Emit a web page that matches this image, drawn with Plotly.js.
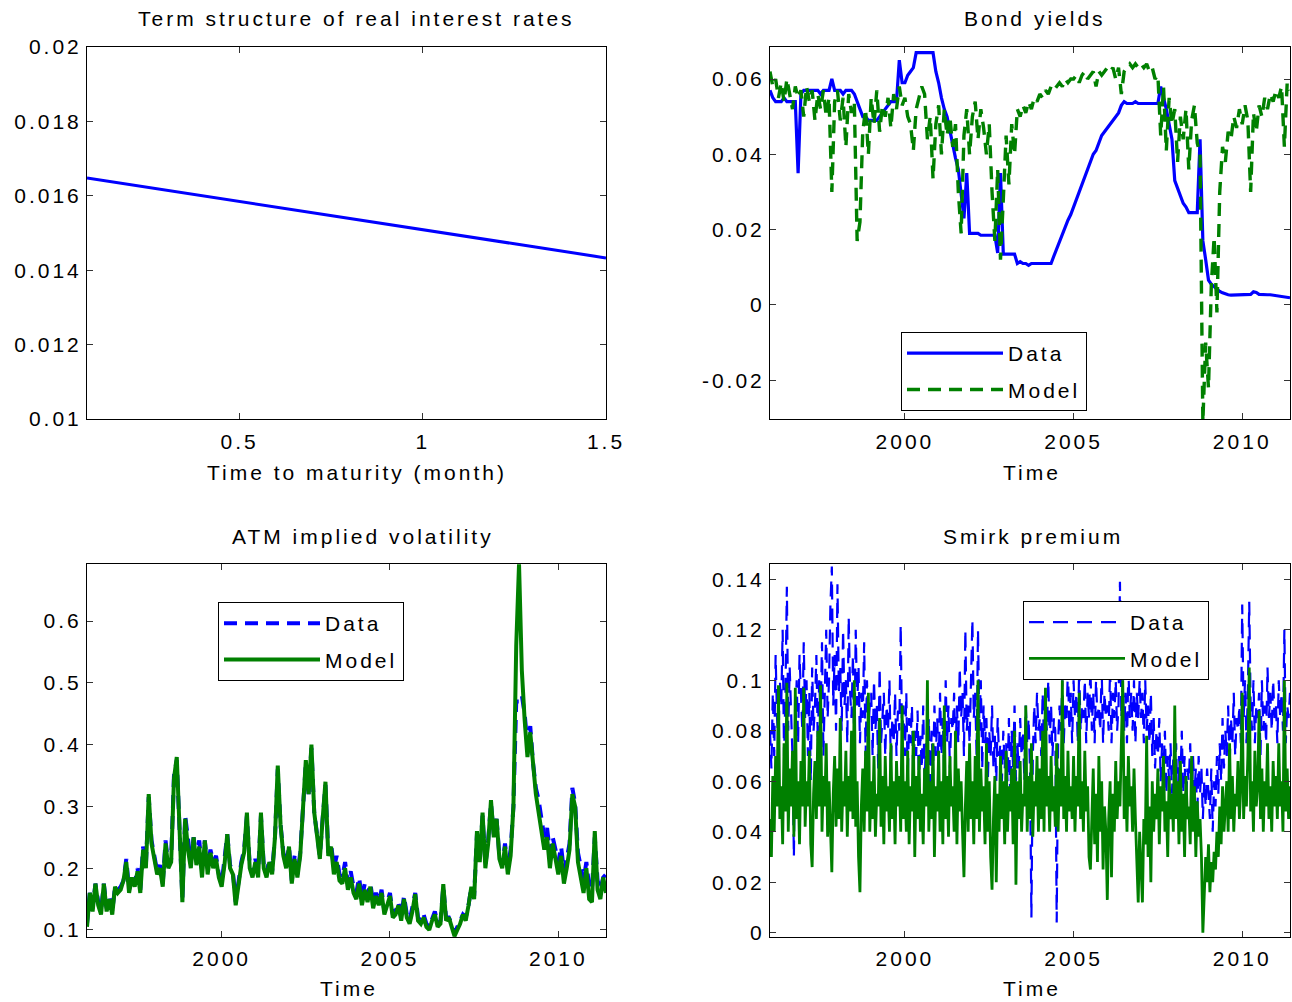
<!DOCTYPE html>
<html>
<head>
<meta charset="utf-8">
<script src="https://cdn.plot.ly/plotly-3.0.1.min.js"></script>
<style>
html,body{margin:0;padding:0;background:#fff;}
#chart{width:1292px;height:1002px;}
svg text{letter-spacing:3px;}
</style>
</head>
<body>
<div id="chart"></div>
<script>
// ---------- Data ----------
// Panel 1: term structure of real interest rates
const maturity = [1/12, 0.25, 0.5, 0.75, 1.0, 1.25, 1.5];
const termRates = [0.01648, 0.01623, 0.01585, 0.01547, 0.01509, 0.01471, 0.01433];

// Time grids (monthly for panels 2-3, half-monthly for panel 4), starting Jan 1996
const startYear = 1996;
const time = [];
for (let i = 0; i < 186; i++) time.push(startYear + i / 12);
const timeHalf = [];
for (let i = 0; i < 371; i++) timeHalf.push(startYear + i / 24);

// Panel 2: bond yields
const bondData = [
  0.057,0.055,0.054,0.054,0.054,0.055,0.054,0.054,0.054,0.054,0.035,0.056,
  0.057,0.057,0.057,0.057,0.057,0.057,0.056,0.057,0.057,0.057,0.060,0.057,
  0.057,0.057,0.056,0.057,0.057,0.057,0.056,0.054,0.052,0.050,0.050,0.049,
  0.049,0.049,0.049,0.050,0.051,0.052,0.053,0.054,0.054,0.054,0.065,0.059,
  0.059,0.061,0.062,0.063,0.067,0.067,0.067,0.067,0.067,0.067,0.067,0.062,
  0.059,0.055,0.052,0.050,0.046,0.042,0.039,0.036,0.030,0.023,0.035,0.019,
  0.019,0.019,0.019,0.0185,0.0185,0.0185,0.0185,0.0185,0.0185,0.0138,0.035,0.0135,
  0.0135,0.0135,0.0135,0.0135,0.011,0.0115,0.011,0.011,0.0105,0.011,0.011,0.011,
  0.011,0.011,0.011,0.011,0.011,0.013,0.015,0.017,0.019,0.021,0.0225,0.024,
  0.026,0.028,0.030,0.032,0.034,0.036,0.038,0.040,0.041,0.043,0.045,0.046,
  0.047,0.048,0.049,0.050,0.051,0.053,0.054,0.0535,0.0535,0.0535,0.054,0.0535,
  0.0535,0.0535,0.0535,0.0535,0.0535,0.0535,0.0535,0.058,0.055,0.052,0.048,0.044,
  0.033,0.031,0.029,0.027,0.026,0.0245,0.0245,0.0245,0.0245,0.044,0.017,0.012,
  0.0066,0.0055,0.0048,0.0042,0.0036,0.0032,0.0029,0.0027,0.0026,0.0026,0.0026,0.0026,
  0.0026,0.0026,0.0027,0.0028,0.0035,0.0033,0.0028,0.0027,0.0027,0.0027,0.0027,0.0026,
  0.0026,0.0025,0.0022,0.0021,0.0020,0.0019
];
const bondModel = [
  0.062,0.058,0.060,0.055,0.059,0.054,0.060,0.056,0.052,0.058,0.055,0.057,
  0.050,0.058,0.054,0.057,0.049,0.056,0.052,0.057,0.050,0.055,0.030,0.054,
  0.057,0.049,0.055,0.042,0.056,0.051,0.054,0.017,0.022,0.046,0.052,0.040,
  0.055,0.048,0.057,0.046,0.053,0.050,0.055,0.047,0.056,0.052,0.058,0.053,
  0.055,0.050,0.048,0.041,0.052,0.055,0.058,0.056,0.044,0.050,0.0335,0.048,
  0.053,0.040,0.052,0.045,0.050,0.042,0.048,0.030,0.019,0.045,0.052,0.040,
  0.050,0.054,0.044,0.052,0.047,0.040,0.048,0.030,0.017,0.036,0.012,0.028,
  0.045,0.032,0.048,0.040,0.052,0.050,0.053,0.051,0.054,0.052,0.055,0.054,
  0.056,0.055,0.057,0.056,0.058,0.057,0.058,0.059,0.058,0.060,0.059,0.060,
  0.060,0.061,0.059,0.061,0.062,0.060,0.061,0.062,0.058,0.062,0.061,0.062,
  0.063,0.062,0.063,0.060,0.063,0.056,0.062,0.063,0.064,0.063,0.064,0.063,
  0.064,0.063,0.064,0.062,0.063,0.060,0.061,0.045,0.058,0.041,0.055,0.048,
  0.052,0.038,0.050,0.044,0.052,0.036,0.049,0.053,0.043,0.040,-0.031,-0.010,
  -0.022,0.005,0.018,-0.002,0.030,0.042,0.038,0.046,0.044,0.050,0.047,0.052,
  0.048,0.053,0.049,0.030,0.051,0.046,0.053,0.050,0.055,0.052,0.056,0.054,
  0.057,0.055,0.058,0.042,0.059,0.057
];

// Panel 3: ATM implied volatility
const atmData = [
  0.110,0.160,0.135,0.175,0.145,0.130,0.175,0.135,0.155,0.130,0.170,0.165,
  0.170,0.180,0.215,0.165,0.190,0.175,0.200,0.165,0.235,0.205,0.315,0.245,
  0.220,0.195,0.205,0.175,0.245,0.205,0.215,0.350,0.375,0.245,0.150,0.285,
  0.240,0.210,0.250,0.215,0.245,0.195,0.245,0.200,0.230,0.210,0.220,0.190,
  0.175,0.210,0.255,0.205,0.195,0.145,0.180,0.210,0.230,0.285,0.205,0.190,
  0.215,0.195,0.285,0.205,0.190,0.215,0.195,0.250,0.360,0.270,0.225,0.205,
  0.235,0.180,0.220,0.190,0.225,0.300,0.370,0.320,0.395,0.290,0.255,0.220,
  0.280,0.335,0.225,0.240,0.200,0.220,0.190,0.185,0.210,0.175,0.195,0.170,
  0.160,0.185,0.150,0.175,0.155,0.175,0.145,0.160,0.145,0.165,0.130,0.145,
  0.160,0.125,0.130,0.145,0.120,0.155,0.125,0.115,0.135,0.160,0.120,0.115,
  0.125,0.110,0.105,0.120,0.130,0.110,0.115,0.170,0.120,0.120,0.110,0.095,
  0.105,0.115,0.125,0.120,0.140,0.170,0.155,0.255,0.215,0.285,0.205,0.245,
  0.305,0.255,0.280,0.220,0.205,0.240,0.200,0.230,0.300,0.470,0.470,0.480,
  0.450,0.400,0.430,0.370,0.330,0.310,0.280,0.250,0.265,0.225,0.250,0.230,
  0.210,0.235,0.195,0.215,0.240,0.330,0.305,0.225,0.200,0.180,0.210,0.170,
  0.165,0.250,0.180,0.165,0.185,0.190
];
const atmModel = [
  0.105,0.160,0.130,0.175,0.140,0.125,0.175,0.130,0.150,0.125,0.170,0.160,
  0.165,0.180,0.210,0.160,0.185,0.170,0.195,0.160,0.230,0.200,0.320,0.240,
  0.215,0.190,0.200,0.170,0.240,0.200,0.210,0.345,0.380,0.240,0.145,0.280,
  0.230,0.200,0.250,0.205,0.235,0.185,0.245,0.190,0.225,0.200,0.215,0.185,
  0.170,0.205,0.255,0.200,0.190,0.140,0.175,0.205,0.225,0.290,0.200,0.185,
  0.210,0.185,0.290,0.200,0.185,0.210,0.190,0.250,0.366,0.270,0.220,0.200,
  0.235,0.175,0.215,0.185,0.220,0.300,0.375,0.320,0.400,0.290,0.250,0.215,
  0.280,0.340,0.220,0.235,0.190,0.210,0.180,0.175,0.200,0.165,0.185,0.160,
  0.150,0.175,0.140,0.165,0.145,0.170,0.135,0.155,0.140,0.160,0.125,0.140,
  0.155,0.120,0.125,0.140,0.115,0.150,0.120,0.110,0.130,0.158,0.115,0.110,
  0.120,0.105,0.100,0.115,0.125,0.105,0.110,0.174,0.115,0.120,0.105,0.090,
  0.100,0.110,0.125,0.115,0.140,0.170,0.150,0.260,0.210,0.290,0.200,0.240,
  0.310,0.250,0.280,0.215,0.200,0.235,0.190,0.220,0.300,0.560,0.692,0.520,
  0.440,0.380,0.420,0.360,0.320,0.290,0.260,0.230,0.250,0.200,0.240,0.210,
  0.190,0.220,0.175,0.200,0.230,0.320,0.300,0.210,0.180,0.160,0.200,0.150,
  0.145,0.260,0.165,0.150,0.185,0.160
];

// Panel 4: smirk premium (half-monthly)
const smirkData = [
  0.080,0.065,0.095,0.070,0.110,0.085,0.075,0.100,0.090,0.120,0.070,0.095,0.137,0.080,0.105,0.090,0.070,0.030,0.085,0.100,0.075,0.110,0.090,0.080,
  0.115,0.085,0.100,0.070,0.095,0.060,0.105,0.080,0.090,0.110,0.075,0.100,0.085,0.115,0.070,0.095,0.120,0.085,0.100,0.130,0.145,0.090,0.110,0.080,
  0.138,0.095,0.105,0.080,0.120,0.090,0.100,0.075,0.125,0.095,0.085,0.110,0.070,0.120,0.090,0.105,0.075,0.095,0.085,0.115,0.070,0.100,0.080,0.090,
  0.095,0.070,0.100,0.080,0.090,0.065,0.105,0.075,0.085,0.095,0.070,0.090,0.080,0.100,0.065,0.085,0.075,0.095,0.070,0.088,0.080,0.122,0.075,0.090,
  0.070,0.095,0.060,0.085,0.075,0.090,0.060,0.080,0.070,0.088,0.058,0.078,0.065,0.090,0.060,0.075,0.068,0.085,0.055,0.080,0.062,0.090,0.070,0.085,
  0.065,0.095,0.070,0.085,0.060,0.100,0.075,0.090,0.065,0.085,0.080,0.095,0.070,0.090,0.075,0.105,0.085,0.095,0.070,0.120,0.080,0.090,0.075,0.100,
  0.124,0.085,0.095,0.070,0.120,0.080,0.100,0.065,0.090,0.075,0.085,0.060,0.080,0.070,0.090,0.065,0.078,0.060,0.085,0.070,0.075,0.060,0.080,0.065,
  0.075,0.060,0.085,0.050,0.080,0.065,0.090,0.060,0.075,0.065,0.085,0.070,0.080,0.060,0.090,0.075,0.085,0.065,0.006,0.070,0.090,0.075,0.095,0.080,
  0.085,0.070,0.095,0.075,0.090,0.080,0.100,0.075,0.090,0.070,0.085,0.080,0.004,0.075,0.090,0.080,0.100,0.075,0.090,0.085,0.105,0.080,0.095,0.075,
  0.100,0.085,0.095,0.075,0.105,0.080,0.090,0.085,0.100,0.075,0.095,0.085,0.105,0.080,0.095,0.075,0.100,0.085,0.090,0.080,0.105,0.075,0.095,0.085,
  0.090,0.080,0.105,0.075,0.095,0.085,0.100,0.080,0.090,0.139,0.085,0.100,0.080,0.095,0.075,0.105,0.085,0.095,0.080,0.100,0.075,0.095,0.085,0.100,
  0.085,0.095,0.075,0.100,0.080,0.090,0.075,0.095,0.070,0.085,0.065,0.080,0.070,0.085,0.060,0.075,0.065,0.080,0.055,0.070,0.060,0.075,0.055,0.070,
  0.065,0.075,0.050,0.070,0.060,0.080,0.055,0.070,0.050,0.065,0.060,0.075,0.050,0.070,0.055,0.065,0.045,0.070,0.055,0.065,0.045,0.060,0.050,0.065,
  0.055,0.045,0.065,0.040,0.060,0.050,0.070,0.055,0.075,0.060,0.085,0.065,0.080,0.070,0.090,0.065,0.085,0.075,0.095,0.070,0.085,0.080,0.090,0.075,
  0.130,0.085,0.100,0.075,0.095,0.131,0.090,0.080,0.100,0.075,0.090,0.085,0.095,0.070,0.100,0.080,0.090,0.075,0.105,0.085,0.095,0.080,0.100,0.085,
  0.090,0.075,0.100,0.085,0.095,0.080,0.120,0.075,0.090,0.085,0.095
];
const smirkModel = [
  0.045,0.030,0.062,0.040,0.070,0.050,0.098,0.045,0.058,0.035,0.075,0.048,0.099,0.040,0.065,0.050,0.072,0.038,0.097,0.045,0.060,0.035,0.068,0.050,
  0.097,0.042,0.060,0.050,0.072,0.035,0.026,0.055,0.068,0.045,0.080,0.050,0.098,0.040,0.062,0.050,0.075,0.038,0.060,0.045,0.024,0.055,0.070,0.042,
  0.065,0.045,0.085,0.040,0.060,0.050,0.072,0.038,0.062,0.048,0.080,0.045,0.100,0.042,0.060,0.030,0.016,0.050,0.065,0.040,0.072,0.048,0.095,0.040,
  0.060,0.045,0.070,0.038,0.055,0.050,0.085,0.042,0.062,0.035,0.070,0.048,0.058,0.040,0.075,0.045,0.060,0.035,0.068,0.050,0.062,0.040,0.090,0.045,
  0.060,0.040,0.072,0.035,0.058,0.048,0.080,0.030,0.062,0.045,0.070,0.040,0.055,0.035,0.065,0.050,0.100,0.040,0.060,0.045,0.075,0.030,0.058,0.048,
  0.072,0.040,0.060,0.035,0.090,0.045,0.062,0.038,0.070,0.050,0.058,0.040,0.080,0.035,0.065,0.048,0.060,0.040,0.022,0.050,0.068,0.040,0.075,0.045,
  0.060,0.035,0.070,0.045,0.100,0.040,0.065,0.048,0.058,0.035,0.075,0.040,0.060,0.030,0.017,0.045,0.062,0.020,0.055,0.040,0.070,0.045,0.060,0.035,
  0.072,0.040,0.058,0.048,0.065,0.035,0.080,0.019,0.060,0.045,0.068,0.040,0.055,0.050,0.090,0.040,0.062,0.045,0.075,0.038,0.060,0.050,0.070,0.040,
  0.065,0.045,0.080,0.040,0.097,0.050,0.062,0.040,0.070,0.048,0.058,0.042,0.075,0.040,0.065,0.050,0.100,0.045,0.062,0.040,0.072,0.048,0.058,0.045,
  0.070,0.040,0.062,0.050,0.095,0.045,0.060,0.040,0.072,0.048,0.058,0.030,0.025,0.045,0.065,0.035,0.055,0.028,0.070,0.040,0.060,0.025,0.050,0.040,
  0.013,0.045,0.060,0.022,0.055,0.040,0.068,0.045,0.060,0.050,0.075,0.100,0.045,0.062,0.040,0.070,0.050,0.058,0.040,0.065,0.045,0.030,0.012,0.040,
  0.025,0.012,0.045,0.035,0.078,0.030,0.050,0.020,0.060,0.040,0.055,0.045,0.065,0.035,0.058,0.048,0.070,0.040,0.052,0.030,0.062,0.045,0.055,0.040,
  0.090,0.045,0.060,0.035,0.068,0.040,0.055,0.030,0.062,0.045,0.050,0.035,0.070,0.040,0.058,0.030,0.052,0.038,0.045,0.030,0.000,0.012,0.030,0.020,
  0.035,0.016,0.028,0.020,0.032,0.025,0.040,0.030,0.050,0.035,0.058,0.040,0.048,0.060,0.040,0.075,0.045,0.062,0.040,0.055,0.050,0.068,0.045,0.058,
  0.095,0.045,0.062,0.050,0.070,0.105,0.048,0.060,0.040,0.072,0.050,0.058,0.088,0.045,0.065,0.040,0.060,0.050,0.075,0.045,0.058,0.040,0.068,0.050,
  0.062,0.045,0.075,0.050,0.060,0.040,0.100,0.048,0.065,0.045,0.058
];

// Tick labels
const termYTicks = [0.01, 0.012, 0.014, 0.016, 0.018, 0.02];
const termYLabels = ['0.01', '0.012', '0.014', '0.016', '0.018', '0.02'];
const termXTicks = [0.5, 1, 1.5];
const termXLabels = ['0.5', '1', '1.5'];
const yearTicks = [2000, 2005, 2010];
const yearLabels = ['2000', '2005', '2010'];
const bondYTicks = [-0.02, 0, 0.02, 0.04, 0.06];
const bondYLabels = ['-0.02', '0', '0.02', '0.04', '0.06'];
const atmYTicks = [0.1, 0.2, 0.3, 0.4, 0.5, 0.6];
const atmYLabels = ['0.1', '0.2', '0.3', '0.4', '0.5', '0.6'];
const smirkYTicks = [0, 0.02, 0.04, 0.06, 0.08, 0.1, 0.12, 0.14];
const smirkYLabels = ['0', '0.02', '0.04', '0.06', '0.08', '0.1', '0.12', '0.14'];

const titles = ['Term structure of real interest rates', 'Bond yields', 'ATM implied volatility', 'Smirk premium'];
const xTitles = ['Time to maturity (month)', 'Time', 'Time', 'Time'];

// ---------- Styling ----------
const F = 'Liberation Sans, Arial, Helvetica, sans-serif';
const FS = 21;
const BLUE = '#0000ff';
const GREEN = '#008000';
const W = 1292, H = 1002;

const colL = [87 / W, 606 / W];
const colR = [770 / W, 1290 / W];
const rowT = [1 - 419 / H, 1 - 47 / H];
const rowB = [1 - 937 / H, 1 - 564 / H];
const timeRange = [1996, 1996 + 185 / 12];

function ax(extra) {
  return Object.assign({
    showline: true, linecolor: '#000', linewidth: 1, mirror: 'ticks',
    ticks: 'inside', ticklen: 6, tickcolor: '#333', tickwidth: 1,
    showgrid: false, zeroline: false, fixedrange: true,
    tickfont: { family: F, size: FS, color: '#000' },
    ticklabelstandoff: 0
  }, extra);
}

const traces = [
  { x: maturity, y: termRates, xaxis: 'x', yaxis: 'y', mode: 'lines',
    line: { color: BLUE, width: 3 }, showlegend: false, hoverinfo: 'skip' },

  { x: time, y: bondData, xaxis: 'x2', yaxis: 'y2', mode: 'lines', name: 'Data',
    legend: 'legend', legendgroup: 'a', line: { color: BLUE, width: 3.2 } },
  { x: time, y: bondModel, xaxis: 'x2', yaxis: 'y2', mode: 'lines', name: 'Model',
    legend: 'legend', legendgroup: 'b', line: { color: GREEN, width: 3.4, dash: '13px,8px' } },

  { x: time, y: atmData, xaxis: 'x3', yaxis: 'y3', mode: 'lines', name: 'Data',
    legend: 'legend2', legendgroup: 'c', line: { color: BLUE, width: 4, dash: '13px,8px' } },
  { x: time, y: atmModel, xaxis: 'x3', yaxis: 'y3', mode: 'lines', name: 'Model',
    legend: 'legend2', legendgroup: 'd', line: { color: GREEN, width: 4 } },

  { x: timeHalf, y: smirkData, xaxis: 'x4', yaxis: 'y4', mode: 'lines', name: 'Data',
    legend: 'legend3', legendgroup: 'e', line: { color: BLUE, width: 2.2, dash: '15px,9px' } },
  { x: timeHalf, y: smirkModel, xaxis: 'x4', yaxis: 'y4', mode: 'lines', name: 'Model',
    legend: 'legend3', legendgroup: 'f', line: { color: GREEN, width: 2.8 } }
];

function legendBox(x, y) {
  return {
    x: x, y: y, xanchor: 'left', yanchor: 'top',
    bgcolor: '#fff', bordercolor: '#000', borderwidth: 1,
    font: { family: F, size: FS, color: '#000' },
    itemwidth: 96, tracegroupgap: 6, traceorder: 'grouped', itemclick: false
  };
}

function textAnn(text, xpx, ypx) {
  return { text: text, xref: 'paper', yref: 'paper', x: xpx / W, y: 1 - ypx / H,
    xanchor: 'center', yanchor: 'middle', showarrow: false,
    font: { family: F, size: FS, color: '#000' } };
}

const layout = {
  width: W, height: H, autosize: false,
  margin: { l: 0, r: 0, t: 0, b: 0 },
  paper_bgcolor: '#fff', plot_bgcolor: '#fff',
  hovermode: false,
  xaxis: ax({ domain: colL, anchor: 'y', range: [maturity[0], 1.5], tickvals: termXTicks, ticktext: termXLabels, ticklabelstandoff: 4 }),
  yaxis: ax({ domain: rowT, anchor: 'x', range: [0.01, 0.02], tickvals: termYTicks, ticktext: termYLabels }),
  xaxis2: ax({ domain: colR, anchor: 'y2', range: timeRange, tickvals: yearTicks, ticktext: yearLabels, ticklabelstandoff: 4 }),
  yaxis2: ax({ domain: rowT, anchor: 'x2', range: [-0.0303, 0.0685], tickvals: bondYTicks, ticktext: bondYLabels }),
  xaxis3: ax({ domain: colL, anchor: 'y3', range: timeRange, tickvals: yearTicks, ticktext: yearLabels, ticklabelstandoff: 3 }),
  yaxis3: ax({ domain: rowB, anchor: 'x3', range: [0.0886, 0.6925], tickvals: atmYTicks, ticktext: atmYLabels }),
  xaxis4: ax({ domain: colR, anchor: 'y4', range: timeRange, tickvals: yearTicks, ticktext: yearLabels, ticklabelstandoff: 3 }),
  yaxis4: ax({ domain: rowB, anchor: 'x4', range: [-0.0017, 0.146], tickvals: smirkYTicks, ticktext: smirkYLabels }),
  legend: legendBox(901 / W, 1 - 332 / H),
  legend2: legendBox(218 / W, 1 - 602 / H),
  legend3: legendBox(1023 / W, 1 - 601 / H),
  annotations: [
    textAnn(titles[0], 356, 18),
    textAnn(titles[1], 1035, 18),
    textAnn(titles[2], 363, 536),
    textAnn(titles[3], 1033, 536),
    textAnn(xTitles[0], 357, 472),
    textAnn(xTitles[1], 1032, 472),
    textAnn(xTitles[2], 349, 988),
    textAnn(xTitles[3], 1032, 988)
  ]
};

Plotly.newPlot('chart', traces, layout, { staticPlot: true, displayModeBar: false });
</script>
</body>
</html>
